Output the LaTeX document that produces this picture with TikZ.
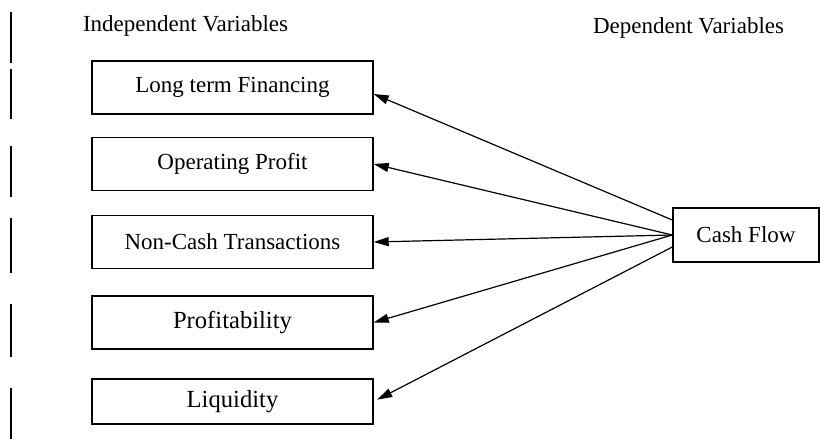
\documentclass[tikz,border=0pt]{standalone}
\usepackage{fontspec}
\setmainfont{Liberation Serif}
\usetikzlibrary{arrows.meta}

\begin{document}
\begin{tikzpicture}[
    x=0.5pt, y=-0.5pt,
    font=\fontsize{11.5}{13}\selectfont,
    varbox/.style={draw, line width=0.7pt, minimum width=140.5pt, minimum height=26.5pt, inner sep=0pt},
    bigtext/.style={font=\fontsize{12.3}{14}\selectfont},
    link/.style={line width=0.6pt, -{Triangle[length=7.5pt, width=4.5pt]}},
    bar/.style={line width=1pt}
  ]
    \useasboundingbox (0,0) rectangle (820,439);
    % change bars in the margin
    \foreach \ya/\yb in {12/63, 69/119, 146/197, 218/273, 304/357, 388/439}
      \draw[bar] (11,\ya) -- (11,\yb);
    \node[anchor=base west] (indep) at (76,32) {Independent Variables};
    \node[anchor=base west] (dep) at (586,33) {Dependent Variables};
    \node[varbox] (ltf) at (232.5,87.5) {Long term Financing};
    \node[varbox] (opp) at (232.5,164) {Operating Profit};
    \node[varbox] (ncash) at (232.5,242) {Non-Cash Transactions};
    \node[varbox, bigtext] (prof) at (232.5,322.5) {Profitability};
    \node[varbox, bigtext, minimum height=22.5pt] (liq) at (232.5,401.5) {Liquidity};
    \node[varbox, minimum width=73pt, minimum height=27pt] (cf) at (746,235) {Cash Flow};
    \draw[link] ([yshift=7.5pt]cf.west) -- ([yshift=-3.25pt]ltf.east);
    \draw[link] (cf.west) -- (opp.east);
    \draw[link] (cf.west) -- (ncash.east);
    \draw[link] (cf.west) -- (prof.east);
    \draw[link, shorten >=2pt] ([yshift=-6pt]cf.west) -- (liq.east);
  \end{tikzpicture}
\end{document}
